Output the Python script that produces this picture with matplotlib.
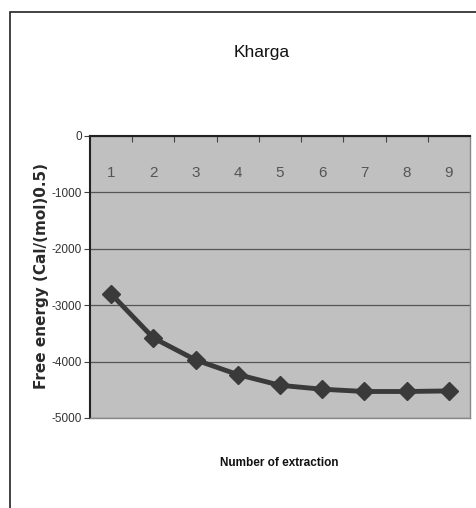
import matplotlib
matplotlib.use("Agg")
import matplotlib.pyplot as plt
from matplotlib.patches import Rectangle
from matplotlib import font_manager

fams = {f.name for f in font_manager.fontManager.ttflist}
narrow = 'Liberation Sans Narrow' if 'Liberation Sans Narrow' in fams else 'Liberation Sans'

extractions = [1, 2, 3, 4, 5, 6, 7, 8, 9]
free_energy = [-2800, -3580, -3970, -4230, -4420, -4490, -4530, -4530, -4520]
yticks = [0, -1000, -2000, -3000, -4000, -5000]

fig = plt.figure(figsize=(4.77, 5.08), dpi=100)
fig.patch.set_facecolor('white')

# outer chart frame
fig.patches.append(Rectangle((10/477, -0.1), 1.2, 1 - 12/508 + 0.1,
                             transform=fig.transFigure, fill=False,
                             edgecolor='#222222', linewidth=1.2))

ax = fig.add_axes([90/477, 1 - 418/508, 380/477, 282/508])
ax.set_facecolor('#c0c0c0')
x = list(range(len(extractions)))
ax.plot(x, free_energy, color='#3a3a3a', linewidth=3.5, marker='D',
        markersize=9, markerfacecolor='#3a3a3a', markeredgecolor='#3a3a3a', zorder=3)

ax.set_xlim(-0.5, len(extractions) - 0.5)
ax.set_ylim(-5000, 0)
ax.set_yticks(yticks)
ax.set_yticklabels([str(v) for v in yticks], fontfamily=narrow, fontsize=8.5, color='#333333')
ax.yaxis.grid(True, color='#555555', linewidth=0.9)
ax.set_axisbelow(True)

ax.set_xticks([i + 0.5 for i in x[:-1]])
ax.set_xticklabels([])
ax.tick_params(axis='x', direction='in', length=4, color='#444444', top=True, bottom=False)
ax.tick_params(axis='y', direction='out', length=4, color='#444444', pad=2)
for i, lab in zip(x, extractions):
    ax.text(i, -650, str(lab), ha='center', va='center', fontfamily=narrow,
            fontsize=11, color='#555555')

for s in ['top', 'left']:
    ax.spines[s].set_color('#222222')
    ax.spines[s].set_linewidth(1.5)
for s in ['right', 'bottom']:
    ax.spines[s].set_color('#888888')
    ax.spines[s].set_linewidth(1.0)

fig.text(262/477, 1 - 53/508, 'Kharga', ha='center', va='center',
         fontfamily=narrow, fontsize=12.5, color='#111111')
fig.text(42/477, 1 - 276/508, 'Free energy (Cal/(mol)0.5)', rotation=90,
         ha='center', va='center', fontfamily='DejaVu Sans', fontsize=11,
         fontweight='bold', color='#2a2a2a')
fig.text(279/477, 1 - 463/508, 'Number of extraction', ha='center', va='center',
         fontfamily=narrow, fontsize=8.5, fontweight='bold', color='#111111')

fig.savefig('out.png', dpi=100, facecolor='white')
